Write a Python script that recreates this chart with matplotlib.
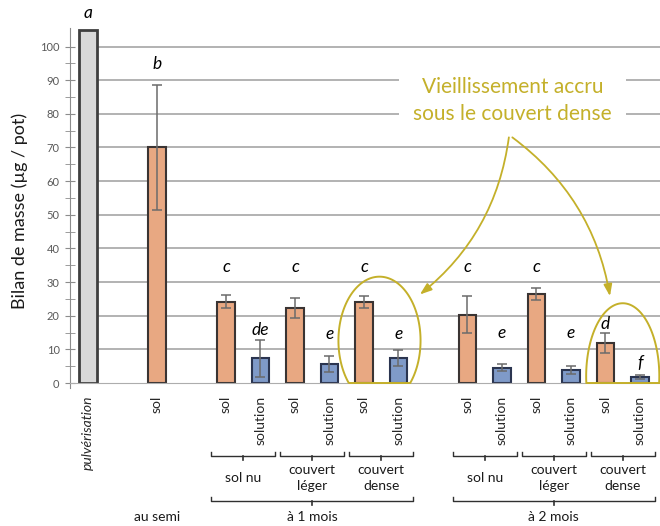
import matplotlib
matplotlib.use("Agg")
import matplotlib.pyplot as plt
import numpy as np
from matplotlib.patches import Polygon

plt.rcParams["font.family"] = ["Lato", "DejaVu Sans"]

# values (µg / pot), error half-widths and significance letters
bar_labels = ["pulvérisation", "sol",
              "sol", "solution", "sol", "solution", "sol", "solution",
              "sol", "solution", "sol", "solution", "sol", "solution"]
bar_values = [105, 70, 24.2, 7.3, 22.4, 5.6, 24.2, 7.4,
              20.3, 4.5, 26.5, 3.9, 11.9, 1.8]
bar_errors = [0, 18.5, 2.0, 5.5, 3.0, 2.4, 1.8, 2.3,
              5.5, 1.0, 1.8, 1.2, 3.0, 0.5]
bar_kinds = ["spray", "sol", "sol", "solution", "sol", "solution", "sol", "solution",
             "sol", "solution", "sol", "solution", "sol", "solution"]
letters = ["a", "b", "c", "de", "c", "e", "c", "e", "c", "e", "c", "e", "d", "f"]
letter_heights = [110, 94.7, 34.4, 15.7, 34.4, 14.6, 34.4, 14.6,
                  34.4, 14.8, 34.4, 14.8, 17.5, 6.0]

cover_labels = ["sol nu", "couvert\nléger", "couvert\ndense"]
period_labels = ["au semi", "à 1 mois", "à 2 mois"]
note_text = "Vieillissement accru\nsous le couvert dense"

# slot layout: pulvérisation, gap, sol, gap, 6 bars, gap, 6 bars
positions = np.array([0, 2] + list(range(4, 10)) + list(range(11, 17)), dtype=float)

fills = {"spray": "#D9D9D9", "sol": "#E8A882", "solution": "#7F9AC8"}
edges = {"spray": "#3F3F3F", "sol": "#3A3433", "solution": "#2B3550"}
olive = "#C4B02A"

fig = plt.figure(figsize=(6.6, 5.26), dpi=100)
ax = fig.add_axes([70 / 660, 1 - 383 / 526, 590 / 660, 355 / 526])
ax.set_xlim(-0.52, 16.58)
ax.set_ylim(0, 105.5)

# horizontal grid, starting right of the first bar
for g in range(10, 101, 10):
    ax.plot([0.3, 16.58], [g, g], color="#ADADAD", lw=1.3, zorder=0, solid_capstyle="butt")

for x, v, e, k in zip(positions, bar_values, bar_errors, bar_kinds):
    lw = 2.0 if k == "spray" else 1.5
    ax.bar(x, v, width=0.5, color=fills[k], edgecolor=edges[k], linewidth=lw, zorder=2)
    if e > 0:
        ax.errorbar(x, v, yerr=e, fmt="none", ecolor="#6B6B6B", elinewidth=1.1,
                    capsize=3.5, capthick=1.1, zorder=3)

for x, t, h in zip(positions, letters, letter_heights):
    ax.text(x, h, t, ha="center", va="center", fontsize=12.5, style="italic",
            color="black", clip_on=False, zorder=4)

ax.set_xticks(positions)
ax.set_xticklabels(bar_labels, rotation=90, va="top", ha="center", fontsize=10, color="#262626")
ax.get_xticklabels()[0].set_style("italic")
ax.tick_params(axis="x", length=0, pad=9)

ax.set_yticks(range(0, 101, 10))
ax.set_yticks(range(5, 101, 10), minor=True)
ax.tick_params(axis="y", which="both", direction="inout", length=7, color="#8C8C8C",
               labelsize=8, labelcolor="#595959", pad=4)
ax.set_ylabel("Bilan de masse (µg / pot)", fontsize=13, color="#1A1A1A")
ax.yaxis.set_label_coords(-0.071, 0.485)

for side in ["top", "right"]:
    ax.spines[side].set_visible(False)
ax.spines["left"].set_color("#8C8C8C")
ax.spines["bottom"].set_color("#ADADAD")
ax.spines["left"].set_bounds(-1.5, 105.5)

# group brackets below the axis
tr = ax.get_xaxis_transform()
px = 1 / 355


def bracket(x0, x1, y):
    xm = (x0 + x1) / 2
    ax.plot([x0, x0, x1, x1], [y + 4 * px, y, y, y + 4 * px], color="#303030", lw=1.0,
            transform=tr, clip_on=False)
    ax.plot([xm, xm], [y, y - 4 * px], color="#303030", lw=1.2, transform=tr, clip_on=False)


small_y = (383 - 456) * px
big_y = (383 - 501) * px
for start in (4, 11):
    for j, lab in enumerate(cover_labels):
        a = start + 2 * j
        bracket(a - 0.43, a + 1.43, small_y)
        ax.text(a + 0.5, (383 - 478) * px, lab, transform=tr, ha="center", va="center",
                fontsize=10, linespacing=1.35, color="#1A1A1A")
    bracket(start - 0.43, start + 5.43, big_y)

period_x = [2, 6.5, 13.5]
for x, lab in zip(period_x, period_labels):
    ax.text(x, (383 - 517) * px, lab, transform=tr, ha="center", va="center",
            fontsize=10, color="#1A1A1A")


# highlighted groups: ellipses flattened on the baseline
def flat_ellipse(cx, cy, a, b):
    t = np.linspace(0, 2 * np.pi, 200)
    xs = cx + a * np.cos(t)
    ys = np.maximum(cy + b * np.sin(t), 0)
    return Polygon(np.column_stack([xs, ys]), closed=True, fill=False,
                   edgecolor=olive, lw=1.4, zorder=5, clip_on=False)


ax.add_patch(flat_ellipse(8.45, 12.6, 1.19, 19.0))
ax.add_patch(flat_ellipse(15.5, 2.0, 1.06, 21.7))

ax.text(12.3, 84.0, note_text, ha="center", va="center", fontsize=15,
        color=olive, linespacing=1.45,
        bbox=dict(facecolor="white", edgecolor="none", pad=10), zorder=6)

arrow = dict(arrowstyle="-|>,head_length=0.7,head_width=0.25", color=olive, lw=1.3,
             connectionstyle="arc3,rad=-0.2", shrinkA=0, shrinkB=0)
ax.annotate("", xy=(9.62, 26.3), xytext=(12.2, 73.0), arrowprops=arrow, zorder=6)
ax.annotate("", xy=(15.13, 25.8), xytext=(12.3, 73.0), arrowprops=arrow, zorder=6)

fig.savefig("out.png", dpi=100, facecolor="white")
